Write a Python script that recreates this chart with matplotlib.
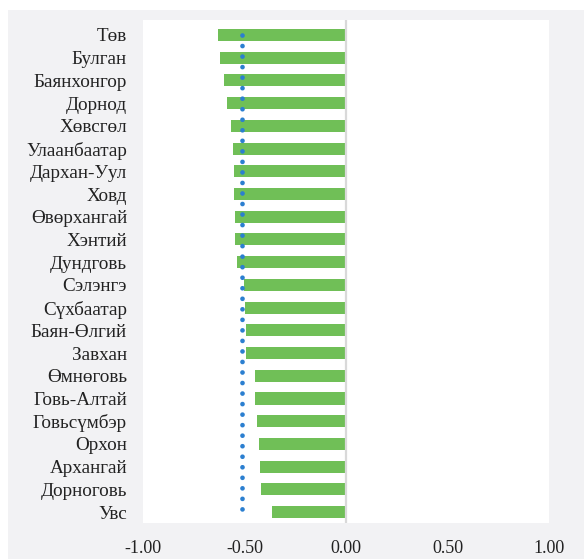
import matplotlib
matplotlib.use("Agg")
import matplotlib.pyplot as plt
from matplotlib.patches import Rectangle
import numpy as np

plt.rcParams['font.family'] = ['Liberation Serif', 'DejaVu Serif']

categories = ["Төв", "Булган", "Баянхонгор", "Дорнод", "Хөвсгөл", "Улаанбаатар",
              "Дархан-Уул", "Ховд", "Өвөрхангай", "Хэнтий", "Дундговь", "Сэлэнгэ",
              "Сүхбаатар", "Баян-Өлгий", "Завхан", "Өмнөговь", "Говь-Алтай",
              "Говьсүмбэр", "Орхон", "Архангай", "Дорноговь", "Увс"]
values = [-0.629, -0.622, -0.600, -0.586, -0.565, -0.555, -0.552, -0.552, -0.548,
          -0.548, -0.535, -0.502, -0.497, -0.494, -0.494, -0.449, -0.448, -0.437,
          -0.430, -0.425, -0.417, -0.363]
average = [-0.51] * len(categories)
xticks = [-1.0, -0.5, 0.0, 0.5, 1.0]

W, H = 584, 559
fig = plt.figure(figsize=(W / 100, H / 100), dpi=100)
fig.patch.set_facecolor('white')
fig.patches.append(Rectangle((8 / W, 0), 1, 1 - 10 / H, transform=fig.transFigure,
                             facecolor='#f2f2f4', edgecolor='none', zorder=-10))

left, right, top, bottom = 143, 549, 20, 523
ax = fig.add_axes([left / W, 1 - bottom / H, (right - left) / W, (bottom - top) / H])
ax.set_zorder(5)
ax.set_facecolor('white')

y = np.arange(len(categories))
ax.barh(y, values, height=0.53, color='#70bf57', zorder=2)
ax.plot(average, y, color='#2b7fd0', linewidth=3.4, linestyle=(0, (0.01, 2.22)),
        dash_capstyle='round', zorder=3)
ax.axvline(0, color='#d9d9d9', linewidth=1.6, zorder=4)

ax.set_xlim(-1, 1)
ax.set_ylim(21.48, -0.66)
ax.set_xticks(xticks)
ax.set_xticklabels([f"{v:.2f}" for v in xticks])
ax.set_yticks(y)
ax.set_yticklabels(categories)
ax.tick_params(axis='y', length=0, pad=11.5, labelsize=13.8, labelcolor='#222222')
ax.tick_params(axis='x', length=0, pad=12, labelsize=13, labelcolor='#222222')
for s in ax.spines.values():
    s.set_visible(False)

fig.savefig('out.png', dpi=100, facecolor='white')
